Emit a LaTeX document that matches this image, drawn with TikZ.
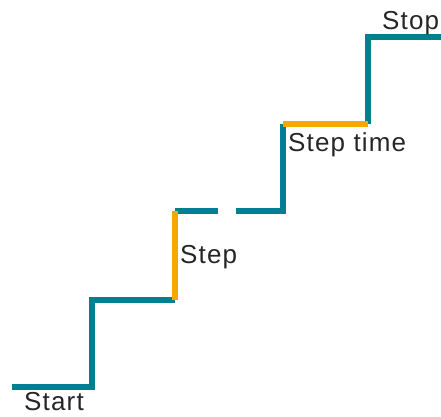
\documentclass[tikz,border=0pt]{standalone}
\usepackage{fontspec}
\setmainfont{Liberation Sans}[LetterSpace=4.5]
\definecolor{stairteal}{RGB}{0,128,142}
\definecolor{stairorange}{RGB}{245,168,0}
\begin{document}
\begin{tikzpicture}[x=1pt,y=-1pt,
  tread/.style={draw=stairteal,line width=5.5pt,line join=miter},
  riser/.style={draw=stairorange,line width=5.5pt},
  lbl/.style={anchor=base west,inner sep=0pt,font=\fontsize{26}{30}\selectfont,text=black!85}]
\useasboundingbox (0,0) rectangle (441,416);
% corner points of the staircase
\coordinate (s0) at (12,387);
\coordinate (s1) at (92,387);
\coordinate (s2) at (92,300);
\coordinate (s3) at (175,300);
\coordinate (s4) at (175,211);
\coordinate (d1) at (218,211);
\coordinate (d2) at (236,211);
\coordinate (s5) at (283,211);
\coordinate (s6) at (283,124);
\coordinate (s7) at (368,124);
\coordinate (s8) at (368,37);
\coordinate (s9) at (441,37);
% steps
\draw[tread] (s0) -- (s1) -- (s2) -- (s3);
\draw[tread] (s4) -- (d1);
\draw[tread] (d2) -- (s5) -- (s6);
\draw[tread] (s7) -- (s8) -- (s9);
\draw[riser] (s3) -- (s4);
\draw[riser] (s6) -- (s7);
% labels
\node[lbl] (start) at (24,410) {Start};
\node[lbl] (step) at (180,263) {Step};
\node[lbl] (steptime) at (288,151) {Step time};
\node[lbl] (stop) at (382,29) {Stop};
\end{tikzpicture}
\end{document}
